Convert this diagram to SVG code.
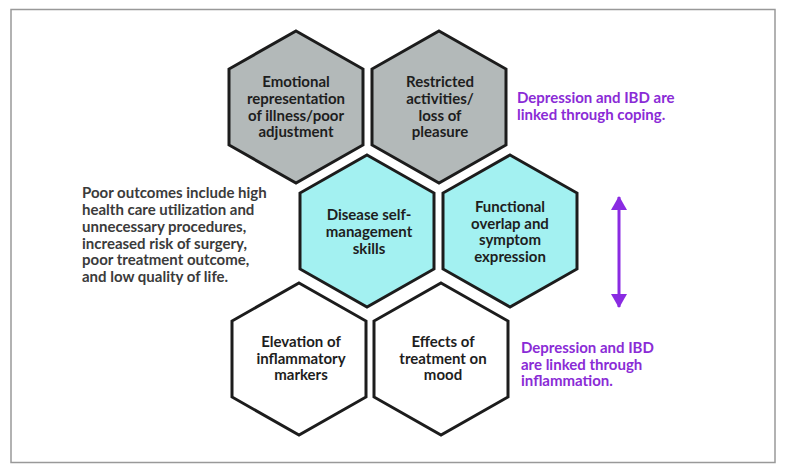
<svg xmlns="http://www.w3.org/2000/svg" width="786" height="471" viewBox="0 0 786 471">
<style>
.hex{stroke:#1c1c1c;stroke-width:3;stroke-linejoin:miter}
.gray{fill:#b3b9b9}
.cyan{fill:#a3f1f1}
.white{fill:#ffffff}
.t{font-family:Lato,"Open Sans",sans-serif;font-weight:bold;font-size:15px;fill:#1e1e1e;text-anchor:middle}
.p{font-family:Lato,"Open Sans",sans-serif;font-weight:bold;font-size:15px;fill:#8a2bd6}
.g{font-family:Lato,"Open Sans",sans-serif;font-weight:bold;font-size:15px;fill:#3b3b3b}
</style>
<defs>
<path id="hx" d="M0,-76 L67,-38 L67,38 L0,76 L-67,38 L-67,-38 Z"/>
<marker id="ah" viewBox="0 0 14 16" refX="13" refY="8" markerWidth="14" markerHeight="16" markerUnits="userSpaceOnUse" orient="auto-start-reverse">
<path d="M0,0 L14,8 L0,16 Z" fill="#8a2be2"/>
</marker>
</defs>
<rect x="11" y="9.5" width="764" height="453" fill="#fff" stroke="#999" stroke-width="1.5"/>

<g id="node-emotional">
<use href="#hx" class="hex gray" x="296" y="107"/>
<text class="t" x="296" y="87">Emotional</text>
<text class="t" x="296" y="104">representation</text>
<text class="t" x="296" y="120.5">of illness/poor</text>
<text class="t" x="296" y="137">adjustment</text>
</g>
<g id="node-restricted">
<use href="#hx" class="hex gray" x="439" y="107"/>
<text class="t" x="440" y="87">Restricted</text>
<text class="t" x="440" y="104">activities/</text>
<text class="t" x="440" y="120.5">loss of</text>
<text class="t" x="440" y="137">pleasure</text>
</g>
<g id="node-selfmanagement">
<use href="#hx" class="hex cyan" x="367" y="231"/>
<text class="t" x="369" y="220">Disease self-</text>
<text class="t" x="369" y="237">management</text>
<text class="t" x="369" y="253.5">skills</text>
</g>
<g id="node-functional">
<use href="#hx" class="hex cyan" x="510" y="231"/>
<text class="t" x="510" y="212">Functional</text>
<text class="t" x="510" y="228.5">overlap and</text>
<text class="t" x="510" y="245">symptom</text>
<text class="t" x="510" y="262">expression</text>
</g>
<g id="node-inflammatory">
<use href="#hx" class="hex white" x="299" y="359"/>
<text class="t" x="301" y="347">Elevation of</text>
<text class="t" x="301" y="363.5">inflammatory</text>
<text class="t" x="301" y="380">markers</text>
</g>
<g id="node-treatment">
<use href="#hx" class="hex white" x="441" y="359"/>
<text class="t" x="443" y="347">Effects of</text>
<text class="t" x="443" y="363.5">treatment on</text>
<text class="t" x="443" y="380">mood</text>
</g>

<g id="connectors">
<line x1="619" y1="197" x2="619" y2="307" stroke="#8a2be2" stroke-width="3" marker-start="url(#ah)" marker-end="url(#ah)"/>
</g>

<g id="label-coping">
<text class="p" x="517" y="103">Depression and IBD are</text>
<text class="p" x="517" y="119.5">linked through coping.</text>
</g>
<g id="label-inflammation">
<text class="p" x="521" y="353">Depression and IBD</text>
<text class="p" x="521" y="369.5">are linked through</text>
<text class="p" x="521" y="386">inflammation.</text>
</g>
<g id="label-outcomes">
<text class="g" x="82" y="198">Poor outcomes include high</text>
<text class="g" x="82" y="215">health care utilization and</text>
<text class="g" x="82" y="231.5">unnecessary procedures,</text>
<text class="g" x="82" y="248.5">increased risk of surgery,</text>
<text class="g" x="82" y="265">poor treatment outcome,</text>
<text class="g" x="82" y="282">and low quality of life.</text>
</g>
</svg>
